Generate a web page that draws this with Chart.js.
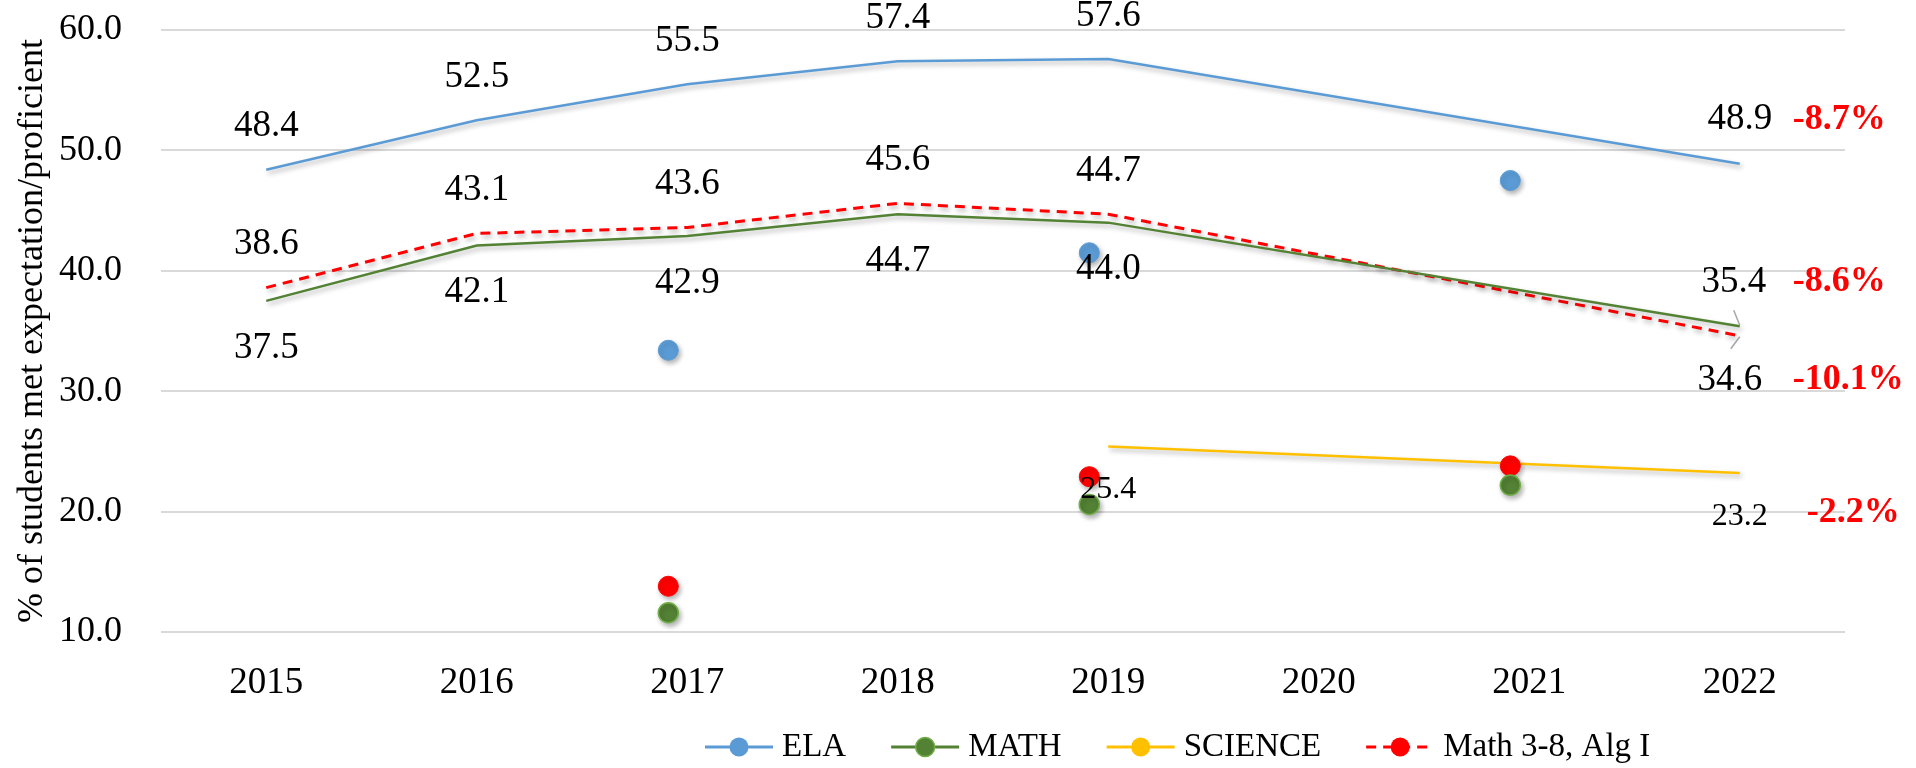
<!DOCTYPE html>
<html>
<head>
<meta charset="utf-8">
<script src="https://cdn.jsdelivr.net/npm/chart.js@4.4.0/dist/chart.umd.min.js"></script>
<style>
  html, body { margin: 0; padding: 0; background: #fff; }
</style>
</head>
<body>
<canvas id="myChart" width="1916" height="768"></canvas>
<script>
// Values
var years = [2015, 2016, 2017, 2018, 2019, 2020, 2021, 2022];
var ela = [48.4, 52.5, 55.5, 57.4, 57.6, null, null, 48.9];
var math = [37.5, 42.1, 42.9, 44.7, 44.0, null, null, 35.4];
var science = [null, null, null, null, 25.4, null, null, 23.2];
var mathAlg = [38.6, 43.1, 43.6, 45.6, 44.7, null, null, 34.6];

// loose markers that sit off the lines
var dotYears = [2016.91, 2018.91, 2020.91];
var elaDots = [33.4, 41.5, 47.5];
var mathDots = [11.6, 20.6, 22.2];
var mathAlgDots = [13.8, 22.9, 23.8];

// change 2019 -> 2022
var changes = ['-8.7%', '-8.6%', '-2.2%', '-10.1%'];   // ELA, MATH, SCIENCE, Math 3-8 Alg I
var yTicks = [10, 20, 30, 40, 50, 60];

var SERIF = '"Liberation Serif", "Times New Roman", serif';
Chart.defaults.font.family = SERIF;
Chart.defaults.color = '#000';

function toPoints(xs, vals) {
    return xs.map(function(x, i) { return { x: x, y: vals[i] }; });
}

// Define data
var data = {
    datasets: [{
        label: 'ELA',
        data: toPoints(years, ela),
        borderColor: '#5B9BD5',
        borderWidth: 2.5,
        marker: '#5B9BD5',
        valueLabels: { size: 37, dy: -43, lastDx: 0, lastDy: -44 },
        change: { text: changes[0], dx: 53, dy: -44 },
        order: 1
    }, {
        label: 'MATH',
        data: toPoints(years, math),
        borderColor: '#548235',
        borderWidth: 2.5,
        marker: '#548235',
        markerBorder: '#70AD47',
        valueLabels: { size: 37, dy: 47, lastDx: -6, lastDy: -44 },
        change: { text: changes[1], dx: 53, dy: -44 },
        leader: [-6, -16, 0, -1],
        order: 1
    }, {
        label: 'SCIENCE',
        data: toPoints(years, science),
        borderColor: '#FFC000',
        borderWidth: 2.5,
        marker: '#FFC000',
        valueLabels: { size: 32, dy: 43, lastDx: 0, lastDy: 44 },
        change: { text: changes[2], dx: 67, dy: 40 },
        order: 1
    }, {
        label: 'Math 3-8, Alg I',
        data: toPoints(years, mathAlg),
        borderColor: '#FF0000',
        borderWidth: 3,
        borderDash: [10, 7],
        marker: '#FF0000',
        valueLabels: { size: 37, dy: -43, lastDx: -10, lastDy: 44 },
        change: { text: changes[3], dx: 53, dy: 44 },
        leader: [0, 1, -9, 13],
        order: 1
    }, {
        label: 'ela-dots',
        data: toPoints(dotYears, elaDots),
        showLine: false,
        pointRadius: 10,
        pointBackgroundColor: '#5B9BD5',
        pointBorderColor: '#5B9BD5',
        order: 0
    }, {
        label: 'math-dots',
        data: toPoints(dotYears, mathDots),
        showLine: false,
        pointRadius: 10,
        pointBackgroundColor: '#548235',
        pointBorderColor: '#70AD47',
        pointBorderWidth: 1.5,
        order: 0
    }, {
        label: 'alg-dots',
        data: toPoints(dotYears, mathAlgDots),
        showLine: false,
        pointRadius: 10,
        pointBackgroundColor: '#FF0000',
        pointBorderColor: '#FF0000',
        order: 0
    }]
};

data.datasets.forEach(function(ds) {
    if (ds.showLine === false) return;
    ds.pointRadius = 0;
    ds.pointHoverRadius = 0;
    ds.spanGaps = true;
    ds.tension = 0;
    ds.fill = false;
});

// soft drop shadow under lines and dots
var shadowPlugin = {
    id: 'shadow',
    beforeDatasetDraw: function(chart) {
        var ctx = chart.ctx;
        ctx.save();
        ctx.shadowColor = 'rgba(0, 0, 0, 0.3)';
        ctx.shadowBlur = 5;
        ctx.shadowOffsetX = 2;
        ctx.shadowOffsetY = 3;
    },
    afterDatasetDraw: function(chart) {
        chart.ctx.restore();
    }
};

// value labels, change labels and leader lines
var labelPlugin = {
    id: 'valueLabels',
    afterDatasetsDraw: function(chart) {
        var ctx = chart.ctx;
        chart.data.datasets.forEach(function(ds, di) {
            if (!ds.valueLabels) return;
            var meta = chart.getDatasetMeta(di);
            var opt = ds.valueLabels;
            var lastIdx = ds.data.length - 1;
            ctx.save();
            ctx.font = opt.size + 'px ' + SERIF;
            ctx.fillStyle = '#000';
            ctx.textAlign = 'center';
            ctx.textBaseline = 'middle';
            meta.data.forEach(function(pt, i) {
                var v = ds.data[i].y;
                if (v === null) return;
                var dx = i === lastIdx ? opt.lastDx : 0;
                var dy = i === lastIdx ? opt.lastDy : opt.dy;
                ctx.fillText(v.toFixed(1), pt.x + dx, pt.y + dy);
            });
            var end = meta.data[lastIdx];
            if (ds.change) {
                ctx.font = 'bold 36px ' + SERIF;
                ctx.fillStyle = '#FF0000';
                ctx.textAlign = 'left';
                ctx.fillText(ds.change.text, end.x + ds.change.dx, end.y + ds.change.dy);
            }
            if (ds.leader) {
                var l = ds.leader;
                ctx.strokeStyle = '#A6A6A6';
                ctx.lineWidth = 1.5;
                ctx.beginPath();
                ctx.moveTo(end.x + l[0], end.y + l[1]);
                ctx.lineTo(end.x + l[2], end.y + l[3]);
                ctx.stroke();
            }
            ctx.restore();
        });
    }
};

// Excel style legend: line with a marker on it
var legendPlugin = {
    id: 'lineLegend',
    afterDraw: function(chart) {
        var ctx = chart.ctx;
        var x = 705, y = 747;
        ctx.save();
        ctx.font = '33px ' + SERIF;
        ctx.textBaseline = 'middle';
        ctx.textAlign = 'left';
        chart.data.datasets.forEach(function(ds) {
            if (!ds.marker) return;
            ctx.strokeStyle = ds.borderColor;
            ctx.lineWidth = 3;
            ctx.setLineDash(ds.borderDash || []);
            ctx.beginPath();
            ctx.moveTo(x, y);
            ctx.lineTo(x + 68, y);
            ctx.stroke();
            ctx.setLineDash([]);
            ctx.beginPath();
            ctx.arc(x + 34, y, 9.5, 0, Math.PI * 2);
            ctx.fillStyle = ds.marker;
            ctx.fill();
            if (ds.markerBorder) {
                ctx.strokeStyle = ds.markerBorder;
                ctx.lineWidth = 1.5;
                ctx.stroke();
            }
            ctx.fillStyle = '#000';
            ctx.fillText(ds.label, x + 77, y);
            x += 77 + ctx.measureText(ds.label).width + 45;
        });
        ctx.restore();
    }
};

// Define options
var options = {
    responsive: false,
    animation: false,
    layout: {
        padding: { top: 30, right: 71, bottom: 46, left: 0 }
    },
    plugins: {
        legend: { display: false },
        tooltip: { enabled: false }
    },
    scales: {
        x: {
            type: 'linear',
            min: 2014.5,
            max: 2022.5,
            afterBuildTicks: function(scale) {
                scale.ticks = years.map(function(v) { return { value: v }; });
            },
            afterFit: function(scale) {
                scale.height = 90;
                scale.paddingLeft = 0;
                scale.paddingRight = 0;
            },
            grid: { display: false, drawTicks: false },
            border: { display: false },
            ticks: {
                font: { size: 37 },
                padding: 29,
                callback: function(value) { return String(value); }
            }
        },
        y: {
            min: 10,
            max: 60,
            afterBuildTicks: function(scale) {
                scale.ticks = yTicks.map(function(v) { return { value: v }; });
            },
            afterFit: function(scale) {
                scale.width = 161;
                scale.paddingTop = 0;
                scale.paddingBottom = 0;
            },
            grid: { color: '#D9D9D9', lineWidth: 2, drawTicks: false },
            border: { display: false },
            ticks: {
                font: { size: 36 },
                padding: 39,
                callback: function(value) { return value.toFixed(1); }
            },
            title: {
                display: true,
                text: '% of students met expectation/proficient',
                font: { size: 36 },
                padding: { top: 11, bottom: 0 }
            }
        }
    }
};

// Create the chart
var ctx = document.getElementById('myChart').getContext('2d');
var myChart = new Chart(ctx, {
    type: 'line',
    data: data,
    options: options,
    plugins: [shadowPlugin, labelPlugin, legendPlugin]
});
</script>
</body>
</html>
